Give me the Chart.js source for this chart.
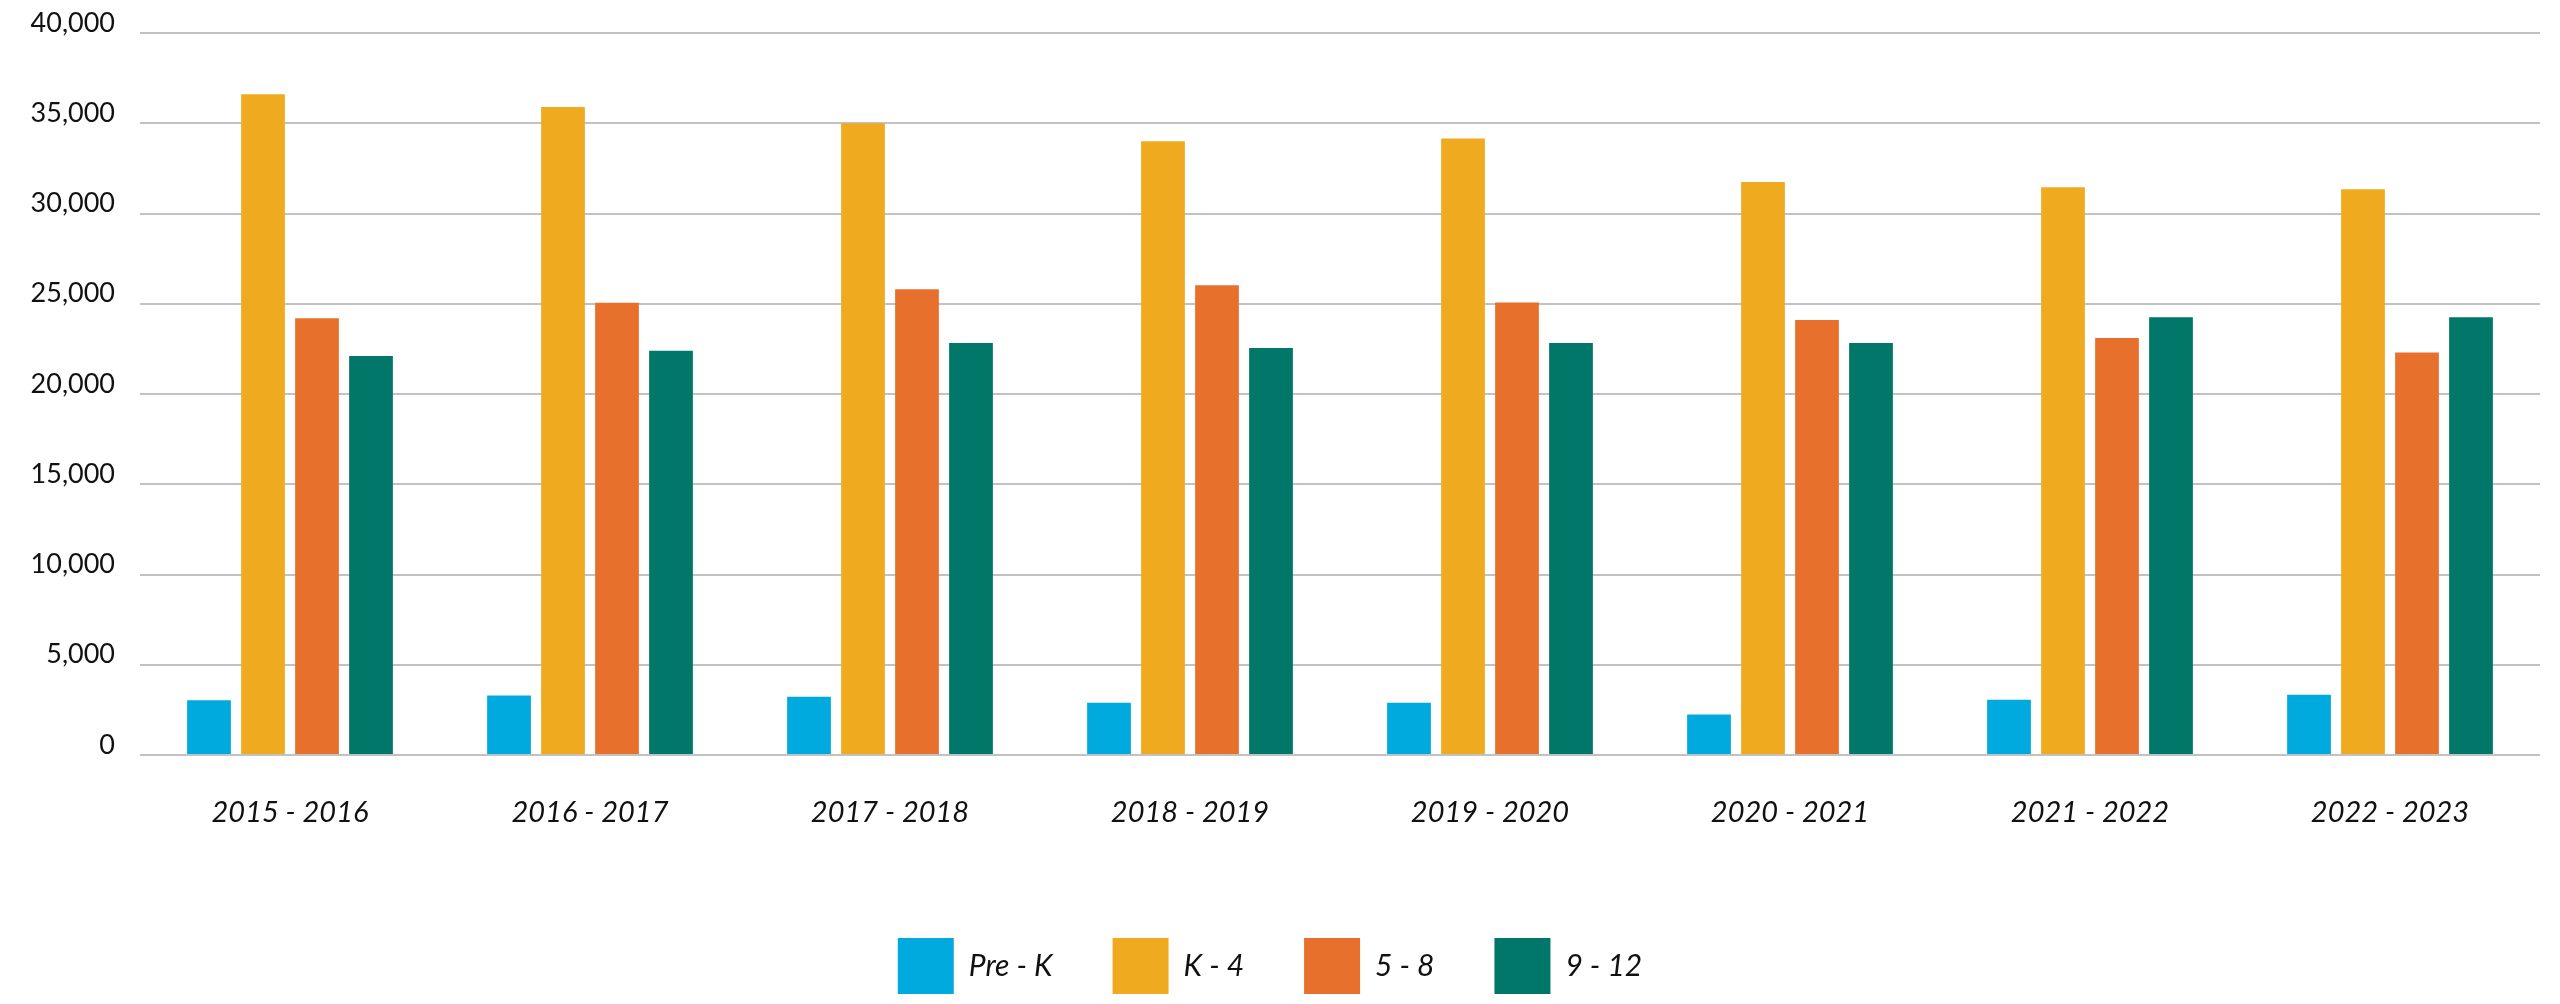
<!DOCTYPE html>
<html>
<head>
<meta charset="utf-8">
<title>Enrollment by grade band</title>
<script src="https://cdn.jsdelivr.net/npm/chart.js@4.4.1/dist/chart.umd.min.js"></script>
<style>
    html, body { margin: 0; padding: 0; background: #fff; }
    #wrap { width: 2560px; height: 1004px; position: relative; }
</style>
</head>
<body>
<div id="wrap"><canvas id="barChart"></canvas></div>
<script>
// school years
var years = ['2015 - 2016', '2016 - 2017', '2017 - 2018', '2018 - 2019',
             '2019 - 2020', '2020 - 2021', '2021 - 2022', '2022 - 2023'];

// enrolment per grade band
var preK   = [3040, 3300, 3230, 2890, 2890, 2240, 3060, 3340];
var k4     = [36600, 35900, 35000, 34000, 34150, 31750, 31450, 31350];
var g5to8  = [24200, 25050, 25800, 26030, 25070, 24100, 23100, 22300];
var g9to12 = [22100, 22400, 22830, 22550, 22830, 22830, 24250, 24250];

var seriesNames = ['Pre - K', 'K - 4', '5 - 8', '9 - 12'];
var yTicks = [0, 5000, 10000, 15000, 20000, 25000, 30000, 35000, 40000];

var colors = ['#00aadf', '#f0aa20', '#e6702c', '#007769'];

var ctx = document.getElementById('barChart').getContext('2d');

function makeSet(i, values) {
    return {
        label: seriesNames[i],
        data: values,
        backgroundColor: colors[i],
        borderWidth: 0,
        categoryPercentage: 0.72,
        barPercentage: 0.81
    };
}

new Chart(ctx, {
    type: 'bar',
    data: {
        labels: years,
        datasets: [makeSet(0, preK), makeSet(1, k4), makeSet(2, g5to8), makeSet(3, g9to12)]
    },
    options: {
        responsive: true,
        maintainAspectRatio: false,
        animation: false,
        devicePixelRatio: 1,
        layout: { padding: { left: 0, right: 20, top: 33, bottom: 0 } },
        plugins: {
            tooltip: { enabled: false },
            legend: {
                position: 'bottom',
                labels: {
                    boxWidth: 56,
                    boxHeight: 56,
                    padding: 60,
                    color: '#111',
                    font: { family: 'Lato', size: 30, style: 'italic' }
                }
            }
        },
        scales: {
            x: {
                grid: { display: false, drawTicks: false },
                border: { display: false },
                ticks: {
                    color: '#111',
                    padding: 40,
                    maxRotation: 0,
                    autoSkip: false,
                    font: { family: 'Lato', size: 29, style: 'italic' }
                },
                afterFit: function(scale) { scale.height = 123; }
            },
            y: {
                min: 0,
                max: 40000,
                grid: { color: '#c2c2c2', lineWidth: 2, drawTicks: false },
                border: { display: false },
                afterFit: function(scale) { scale.width = 140; },
                afterBuildTicks: function(scale) {
                    scale.ticks = yTicks.map(function(v) { return { value: v }; });
                },
                ticks: {
                    color: '#111',
                    padding: 25,
                    labelOffset: -10,   // numbers sit just above their grid line
                    font: { family: 'Lato', size: 27, lineHeight: 0.4 },
                    callback: function(value) {
                        return value.toLocaleString('en-US');
                    }
                }
            }
        }
    }
});
</script>
</body>
</html>
